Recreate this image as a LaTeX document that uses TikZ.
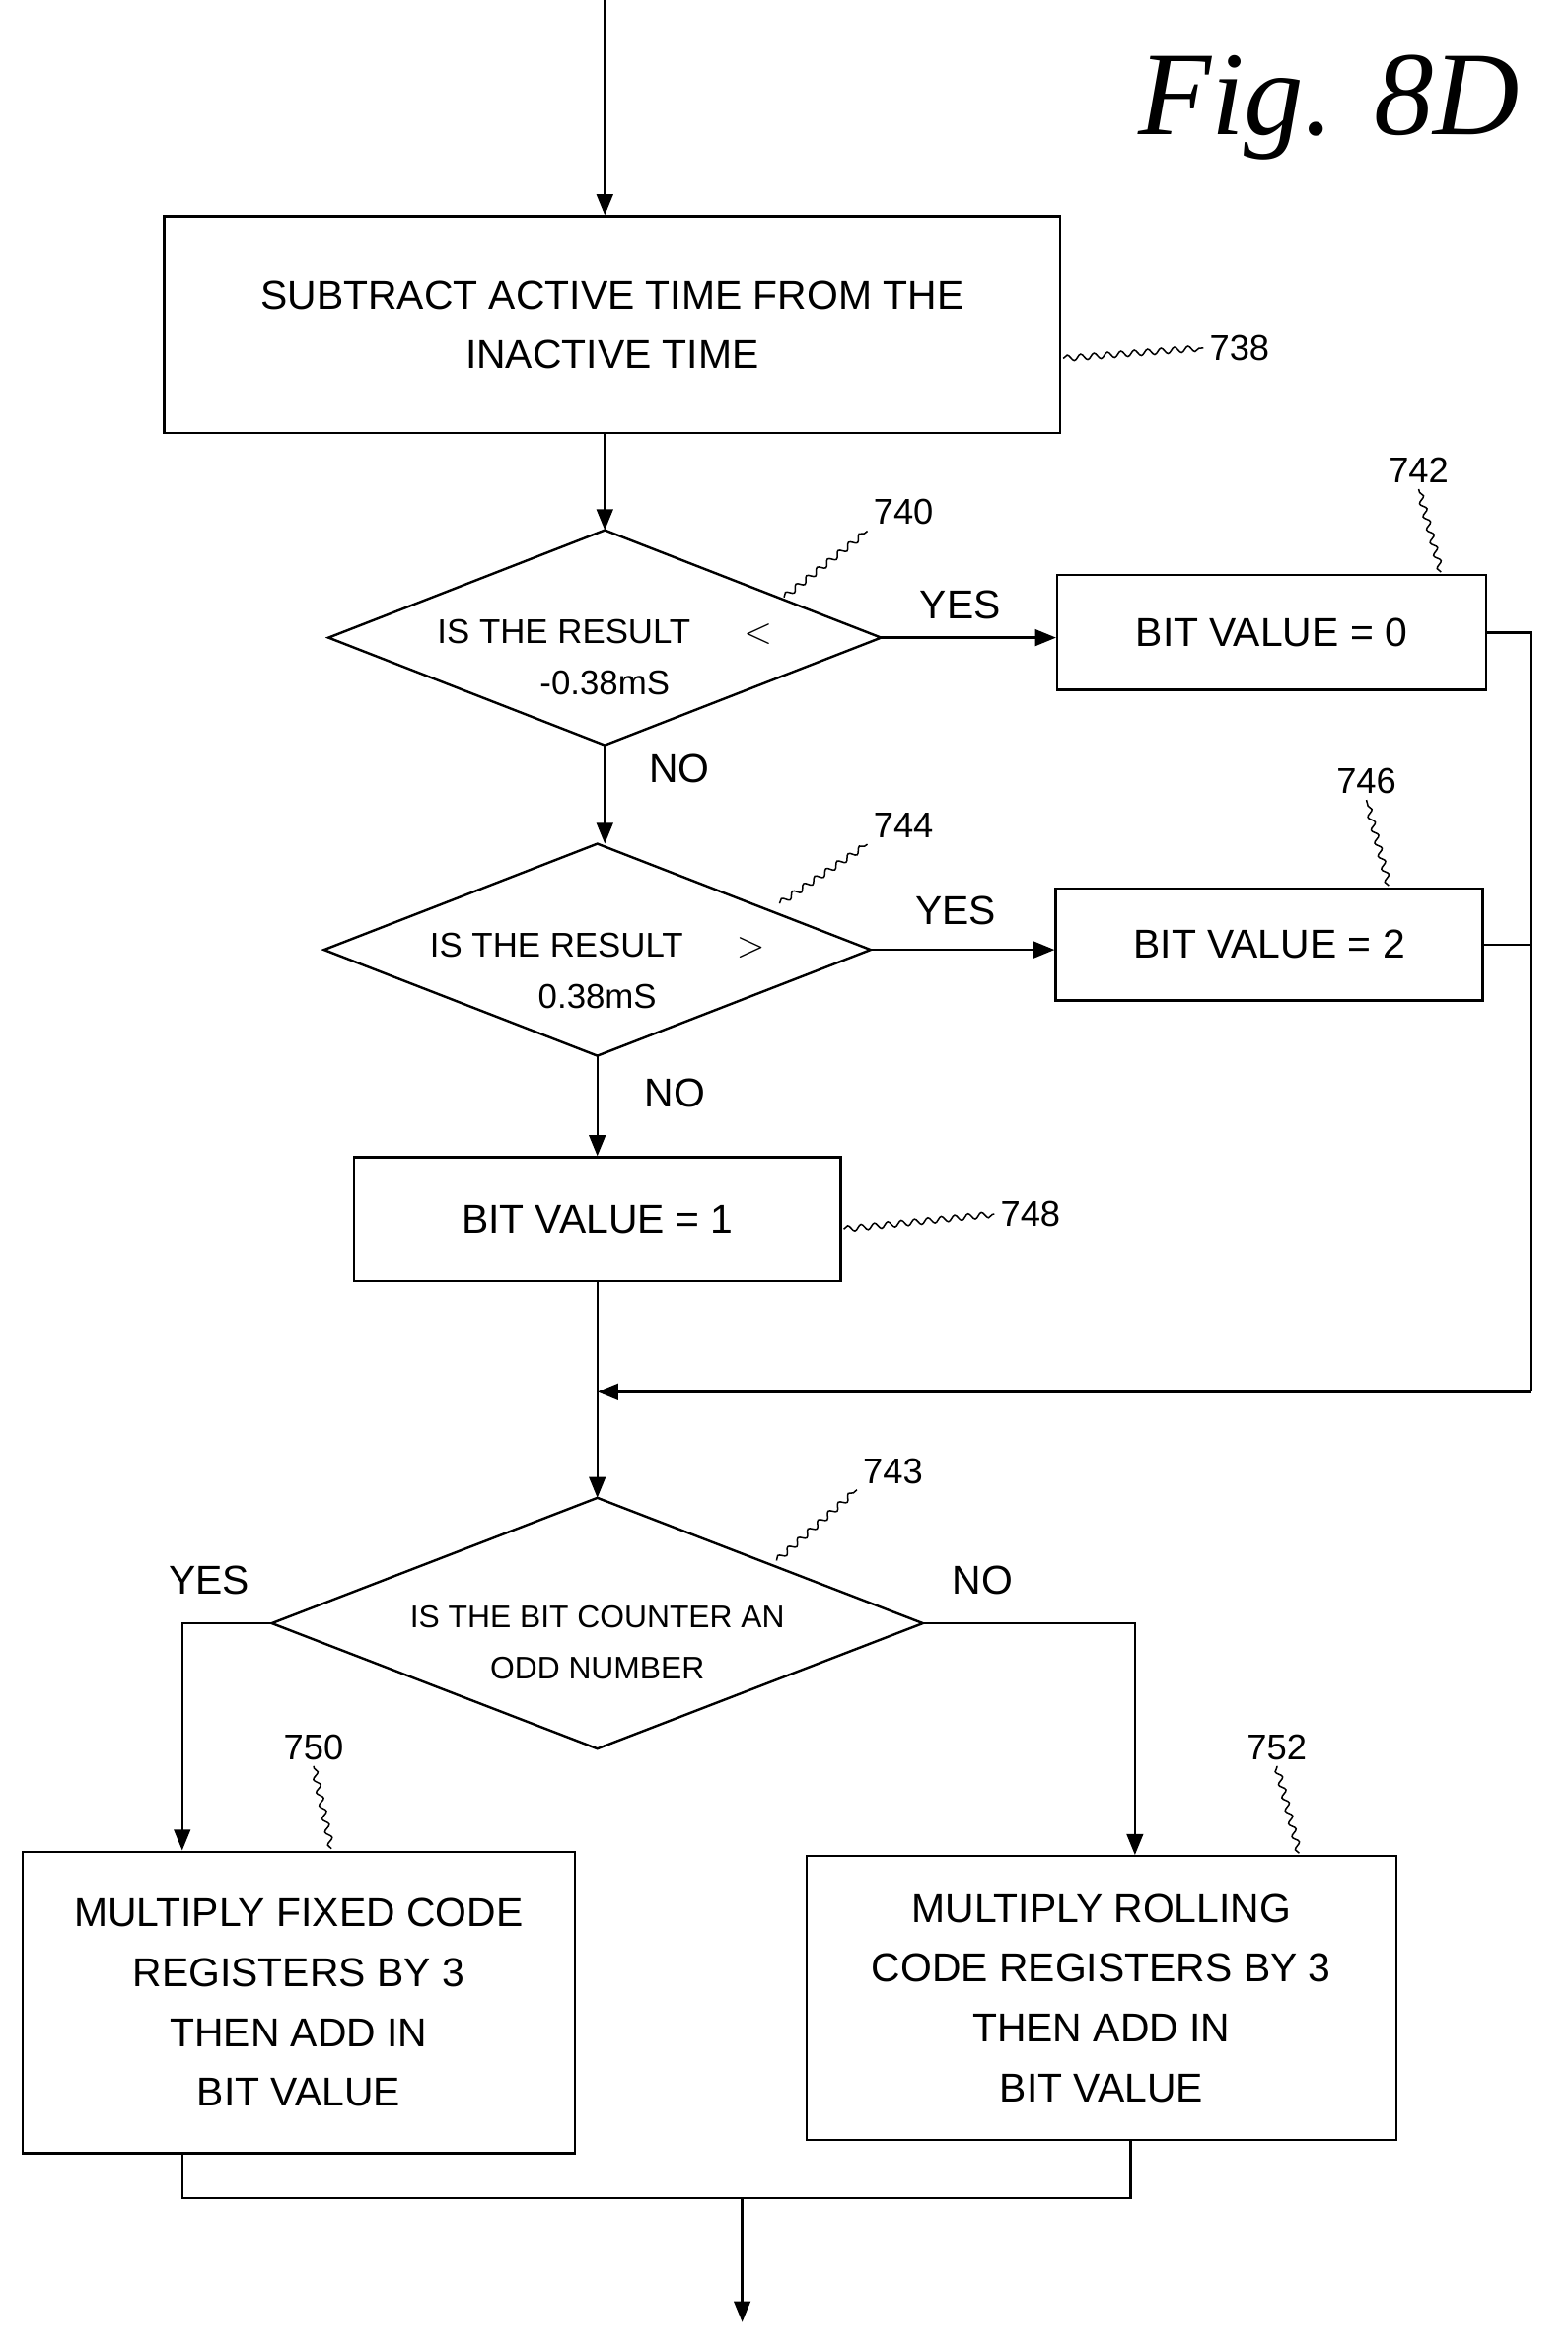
\documentclass[tikz,border=0pt]{standalone}
\usepackage{fontspec}
\setmainfont{Liberation Sans}
\newfontfamily\figfont{Liberation Serif}
\usetikzlibrary{arrows.meta,decorations.pathmorphing}
\newcommand{\mydia}[5]{% name, cx, cy, halfw, halfh
  \coordinate (#1) at (#2,#3);
  \coordinate (#1-n) at (#2,#3-#5);
  \coordinate (#1-s) at (#2,#3+#5);
  \coordinate (#1-w) at (#2-#4,#3);
  \coordinate (#1-e) at (#2+#4,#3);
  \draw (#1-n) -- (#1-e) -- (#1-s) -- (#1-w) -- cycle;}
\begin{document}
\begin{tikzpicture}[x=1pt,y=-1pt,
  line width=1.6pt,
  box/.style={draw,rectangle,align=center,font=\fontsize{27}{40}\selectfont,inner sep=0},
  dtxt/.style={align=center,font=\fontsize{23}{34}\selectfont,inner sep=0},
  lab/.style={font=\fontsize{24}{28}\selectfont},
  yn/.style={font=\fontsize{27}{30}\selectfont},
  arr/.style={-{Triangle[length=14pt,width=11pt]}},
  sq/.style={line width=1pt,decorate,decoration={snake,amplitude=2pt,segment length=9pt}}]
\useasboundingbox (0,0) rectangle (1050,1575);
\node[font=\figfont\itshape\fontsize{80}{80}\selectfont] (fig) at (890,72) {Fig. 8D};
\coordinate (top) at (405,0);
\node[box,minimum width=600,minimum height=145] (b738) at (410,217.5) {SUBTRACT ACTIVE TIME FROM THE\\INACTIVE TIME};
\mydia{d740}{405}{427}{185}{72}
\node[dtxt] (t740) at (405,440) {IS THE RESULT\quad\ \ $<$\\-0.38mS};
\node[box,minimum width=287,minimum height=77] (b742) at (851.5,423.5) {BIT VALUE = 0};
\mydia{d744}{400}{636}{183}{71}
\node[dtxt] (t744) at (400,650) {IS THE RESULT\quad\ \ $>$\\0.38mS};
\node[box,minimum width=286,minimum height=75] (b746) at (850,632.5) {BIT VALUE = 2};
\node[box,minimum width=326,minimum height=83] (b748) at (400,816.5) {BIT VALUE = 1};
\mydia{d743}{400}{1087}{218}{84}
\node[dtxt,font=\fontsize{21}{34}\selectfont] (t743) at (400,1100) {IS THE BIT COUNTER AN\\ODD NUMBER};
\node[box,minimum width=370,minimum height=202] (b750) at (200,1341) {MULTIPLY FIXED CODE\\REGISTERS BY 3\\THEN ADD IN\\BIT VALUE};
\node[box,minimum width=395,minimum height=190] (b752) at (737.5,1338) {MULTIPLY ROLLING\\CODE REGISTERS BY 3\\THEN ADD IN\\BIT VALUE};
% labels
\node[lab] (l738) at (830,233) {738};
\node[lab] (l740) at (605,343) {740};
\node[lab] (l742) at (950,315) {742};
\node[lab] (l744) at (605,553) {744};
\node[lab] (l746) at (915,523) {746};
\node[lab] (l748) at (690,813) {748};
\node[lab] (l743) at (598,985) {743};
\node[lab] (l750) at (210,1170) {750};
\node[lab] (l752) at (855,1170) {752};
\draw[sq] (712,240) -- (l738.west);
\draw[sq] (525,400) -- (l740.south west);
\draw[sq] (965,383) -- (l742.south);
\draw[sq] (522,605) -- (l744.south west);
\draw[sq] (930,593) -- (l746.south);
\draw[sq] (565,823) -- (l748.west);
\draw[sq] (520,1045) -- (l743.south west);
\draw[sq] (222,1238) -- (l750.south);
\draw[sq] (870,1241) -- (l752.south);
% yes/no
\node[yn] (y1) at (643,405) {YES};
\node[yn] (n1) at (455,515) {NO};
\node[yn] (y2) at (640,610) {YES};
\node[yn] (n2) at (452,732) {NO};
\node[yn] (y3) at (140,1058) {YES};
\node[yn] (n3) at (658,1058) {NO};
% connectors
\draw[arr] (top) -- (b738.north -| top);
\draw[arr] (b738.south -| d740) -- (d740-n);
\draw[arr] (d740-e) -- (b742.west |- d740-e);
\draw[arr] (d740-s) -- (d744-n -| d740-s);
\draw[arr] (d744-e) -- (b746.west |- d744-e);
\draw[arr] (d744-s) -- (b748.north);
\coordinate (m) at (400,932);
\coordinate (rt) at (1025,932);
\draw (b742.east) -- (1025,423.5) -- (rt);
\draw (b746.east) -- (1025,632.5);
\draw[arr] (rt) -- (m);
\draw[arr] (b748.south) -- (d743-n);
\draw[arr] (d743-w) -- (122,1087) -- (b750.north -| 122,0);
\draw[arr] (d743-e) -- (760,1087) -- (b752.north -| 760,0);
\coordinate (bot) at (497,1555);
\draw (b750.south -| 122,0) -- (122,1472) -- (757,1472) -- (b752.south -| 757,0);
\draw[arr] (497,1472) -- (bot);
\end{tikzpicture}
\end{document}
